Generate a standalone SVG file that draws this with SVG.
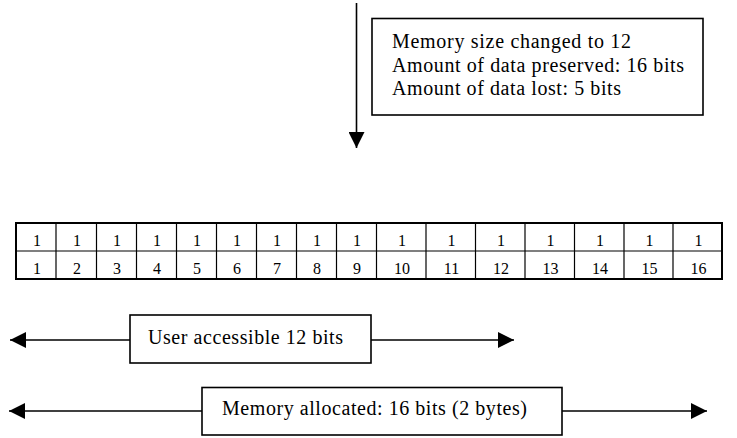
<svg xmlns="http://www.w3.org/2000/svg" width="737" height="438" viewBox="0 0 737 438">
<style>
  .box { fill: #fff; stroke: #000; stroke-width: 1.6; }
  .lbl { font-family: "Liberation Serif", "Times New Roman", serif; font-size: 20px; fill: #000; }
  .num { font-family: "Liberation Serif", "Times New Roman", serif; font-size: 16px; fill: #000; text-anchor: middle; }
  .grid { stroke: #000; stroke-width: 1.2; fill: none; }
  .frame { stroke: #000; stroke-width: 2; fill: none; }
  .conn { stroke: #000; stroke-width: 1.6; fill: none; }
</style>
<defs>
  <marker id="ah" viewBox="0 0 16 16" refX="16" refY="8" markerWidth="16" markerHeight="16" markerUnits="userSpaceOnUse" orient="auto">
    <path d="M0,0 L16,8 L0,16 Z" fill="#000"/>
  </marker>
</defs>
<rect width="737" height="438" fill="#fff"/>

<g id="connectors">
  <line class="conn" x1="356.5" y1="3" x2="356.5" y2="148" marker-end="url(#ah)"/>
  <line class="conn" x1="130" y1="340" x2="10" y2="340" marker-end="url(#ah)"/>
  <line class="conn" x1="371" y1="340" x2="514" y2="340" marker-end="url(#ah)"/>
  <line class="conn" x1="202" y1="411" x2="9" y2="411" marker-end="url(#ah)"/>
  <line class="conn" x1="562" y1="411" x2="707" y2="411" marker-end="url(#ah)"/>
</g>

<g id="note">
  <rect class="box" x="372" y="18.5" width="331" height="96.5"/>
  <text class="lbl" x="392" y="48" textLength="239" lengthAdjust="spacing">Memory size changed to 12</text>
  <text class="lbl" x="392" y="72" textLength="292" lengthAdjust="spacing">Amount of data preserved: 16 bits</text>
  <text class="lbl" x="392" y="95" textLength="229" lengthAdjust="spacing">Amount of data lost: 5 bits</text>
</g>

<g id="memory-table">
  <line class="grid" x1="16" y1="251" x2="722" y2="251"/>
  <line class="grid" x1="56" y1="223" x2="56" y2="279"/>
  <line class="grid" x1="96.5" y1="223" x2="96.5" y2="279"/>
  <line class="grid" x1="136.5" y1="223" x2="136.5" y2="279"/>
  <line class="grid" x1="176.5" y1="223" x2="176.5" y2="279"/>
  <line class="grid" x1="216.5" y1="223" x2="216.5" y2="279"/>
  <line class="grid" x1="256.5" y1="223" x2="256.5" y2="279"/>
  <line class="grid" x1="296.5" y1="223" x2="296.5" y2="279"/>
  <line class="grid" x1="336.5" y1="223" x2="336.5" y2="279"/>
  <line class="grid" x1="376.5" y1="223" x2="376.5" y2="279"/>
  <line class="grid" x1="426" y1="223" x2="426" y2="279"/>
  <line class="grid" x1="475.5" y1="223" x2="475.5" y2="279"/>
  <line class="grid" x1="525" y1="223" x2="525" y2="279"/>
  <line class="grid" x1="574.5" y1="223" x2="574.5" y2="279"/>
  <line class="grid" x1="624" y1="223" x2="624" y2="279"/>
  <line class="grid" x1="673" y1="223" x2="673" y2="279"/>
  <rect class="frame" x="16" y="223" width="706" height="56"/>
  <g>
    <text class="num" x="37" y="246">1</text>
    <text class="num" x="77" y="246">1</text>
    <text class="num" x="117" y="246">1</text>
    <text class="num" x="157" y="246">1</text>
    <text class="num" x="197" y="246">1</text>
    <text class="num" x="237" y="246">1</text>
    <text class="num" x="277" y="246">1</text>
    <text class="num" x="317" y="246">1</text>
    <text class="num" x="357" y="246">1</text>
    <text class="num" x="402" y="246">1</text>
    <text class="num" x="451.5" y="246">1</text>
    <text class="num" x="501" y="246">1</text>
    <text class="num" x="550.5" y="246">1</text>
    <text class="num" x="600" y="246">1</text>
    <text class="num" x="649.5" y="246">1</text>
    <text class="num" x="698.5" y="246">1</text>
  </g>
  <g>
    <text class="num" x="37" y="274">1</text>
    <text class="num" x="77" y="274">2</text>
    <text class="num" x="117" y="274">3</text>
    <text class="num" x="157" y="274">4</text>
    <text class="num" x="197" y="274">5</text>
    <text class="num" x="237" y="274">6</text>
    <text class="num" x="277" y="274">7</text>
    <text class="num" x="317" y="274">8</text>
    <text class="num" x="357" y="274">9</text>
    <text class="num" x="402" y="274">10</text>
    <text class="num" x="451.5" y="274">11</text>
    <text class="num" x="501" y="274">12</text>
    <text class="num" x="550.5" y="274">13</text>
    <text class="num" x="600" y="274">14</text>
    <text class="num" x="649.5" y="274">15</text>
    <text class="num" x="698.5" y="274">16</text>
  </g>
</g>

<g id="user-accessible">
  <rect class="box" x="130" y="315" width="241" height="48"/>
  <text class="lbl" x="148" y="343.5" textLength="195" lengthAdjust="spacing">User accessible 12 bits</text>
</g>

<g id="memory-allocated">
  <rect class="box" x="202" y="387.5" width="360" height="47.5"/>
  <text class="lbl" x="222" y="415" textLength="305" lengthAdjust="spacing">Memory allocated: 16 bits (2 bytes)</text>
</g>
</svg>
